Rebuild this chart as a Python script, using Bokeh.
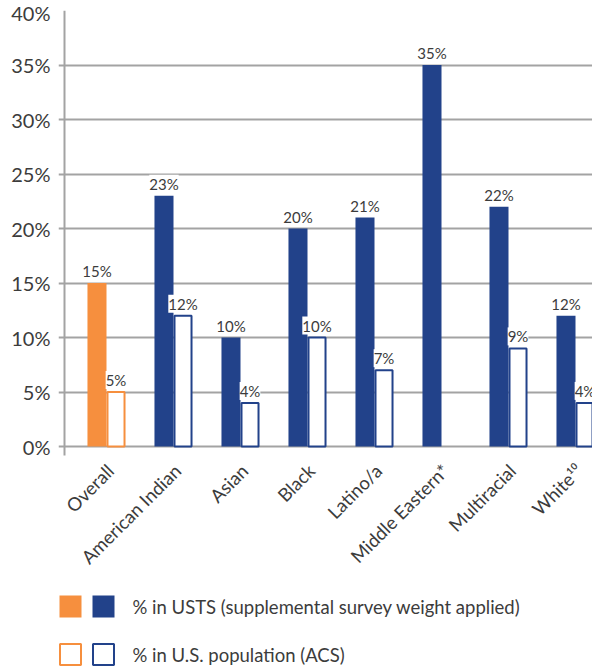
import numpy as np
from bokeh.plotting import figure
from bokeh.models import ColumnDataSource, Range1d, FixedTicker, LabelSet
from bokeh.transform import dodge
from bokeh.embed import file_html
from bokeh.resources import INLINE
from bokeh.core.properties import value

# ---- data ----
categories = ["Overall", "American Indian", "Asian", "Black", "Latino/a",
              "Middle Eastern*", "Multiracial", "White\u00b9\u2070"]
usts_pct = [15, 23, 10, 20, 21, 35, 22, 12]
acs_pct = [5, 12, 4, 10, 7, None, 9, 4]
y_ticks = [0, 5, 10, 15, 20, 25, 30, 35, 40]
y_tick_labels = ["0%", "5%", "10%", "15%", "20%", "25%", "30%", "35%", "40%"]
legend_labels = ["% in USTS (supplemental survey weight applied)",
                 "% in U.S. population (ACS)"]

ORANGE = "#F68F3E"
BLUE = "#22428A"
GRID = "#A3A3A3"
TEXT = "#3C3C3C"
FONT = "Lato"

colors = [ORANGE] + [BLUE] * (len(categories) - 1)
idx = list(range(len(categories)))

usts_src = ColumnDataSource(dict(
    x=idx, top=usts_pct, color=colors,
    label=[f"{v}%" for v in usts_pct]))
acs_i = [i for i in idx if acs_pct[i] is not None]
acs_src = ColumnDataSource(dict(
    x=acs_i, top=[acs_pct[i] for i in acs_i], color=[colors[i] for i in acs_i],
    label=[f"{acs_pct[i]}%" for i in acs_i]))
cat_src = ColumnDataSource(dict(x=idx, y=[0] * len(idx), text=categories))

# ---- geometry (page pixels) ----
W, H = 592, 667
FRAME_L, FRAME_T = 58, 10   # gridlines start 6px left of the axis line
AXIS_PX = 64                # vertical axis line
FIRST_PX = 106              # centre of first category
PX_X = 67.0                 # px per category
ZERO_PX = 446               # 0 % line
PX_Y = 10.9                 # px per percentage point


def dx(px):
    return (px - FIRST_PX) / PX_X


def dy(py):
    return (ZERO_PX - py) / PX_Y


p = figure(width=W, height=H, output_backend="svg", toolbar_location=None,
           x_range=Range1d(dx(FRAME_L), dx(W)),
           y_range=Range1d(dy(H), dy(FRAME_T)),
           min_border_left=FRAME_L, min_border_right=0, min_border_top=FRAME_T,
           min_border_bottom=0)
p.outline_line_color = None
p.background_fill_color = "white"
p.border_fill_color = "white"
p.xaxis.visible = False

# grid (starts at frame edge = tick stubs)
p.ygrid.ticker = FixedTicker(ticks=y_ticks)
p.ygrid.grid_line_color = GRID
p.ygrid.grid_line_width = 2
p.xgrid.visible = False

# vertical axis line
p.segment(x0=[dx(AXIS_PX)], y0=[dy(455)], x1=[dx(AXIS_PX)], y1=[max(y_ticks)],
          line_color=GRID, line_width=2)

off = 0.142
p.vbar(x=dodge("x", -off), top="top", bottom=0, width=0.284,
       fill_color="color", line_color=None, source=usts_src)
p.vbar(x=dodge("x", off), top="top", bottom=0, width=0.254,
       fill_color="white", line_color="color", line_width=2, source=acs_src)

lbl_kw = dict(y="top", text="label", y_offset=3, text_align="center",
              text_baseline="bottom", text_font_size="15px", text_color=TEXT,
              text_font=value(FONT), background_fill_color="white")
p.add_layout(LabelSet(x=dodge("x", -off), source=usts_src, **lbl_kw))
p.add_layout(LabelSet(x=dodge("x", off), source=acs_src, **lbl_kw))

# category labels (rotated)
p.text(x="x", y="y", text="text", source=cat_src, angle=np.pi / 4,
       text_align="right", text_baseline="middle", x_offset=4, y_offset=21,
       text_font=value(FONT), text_font_size="18.5px", text_color=TEXT)

# y axis (labels only; line and stubs drawn above)
p.yaxis.ticker = FixedTicker(ticks=y_ticks)
p.yaxis.major_label_overrides = dict(zip(y_ticks, y_tick_labels))
p.yaxis.axis_line_color = None
p.yaxis.major_tick_line_color = None
p.yaxis.minor_tick_line_color = None
p.yaxis.major_tick_out = 0
p.yaxis.major_tick_in = 0
p.yaxis.major_label_standoff = 8
p.yaxis.major_label_text_font = FONT
p.yaxis.major_label_text_font_size = "20px"
p.yaxis.major_label_text_color = TEXT
p.yaxis.major_label_text_baseline = "top"

# legend (drawn below the bars)
row_y = [dy(606), dy(654)]
sq_x = [dx(70), dx(103)]
p.rect(x=sq_x, y=[row_y[0]] * 2, width=22, height=22,
       width_units="screen", height_units="screen",
       fill_color=[ORANGE, BLUE], line_color=None)
p.rect(x=sq_x, y=[row_y[1]] * 2, width=21, height=21,
       width_units="screen", height_units="screen",
       fill_color="white", line_color=[ORANGE, BLUE], line_width=2)
p.text(x=[dx(132)] * 2, y=row_y, text=legend_labels, text_baseline="middle",
       text_font=value(FONT), text_font_size="18.5px", text_color=TEXT)

open("out.html", "w").write(file_html(p, INLINE))
